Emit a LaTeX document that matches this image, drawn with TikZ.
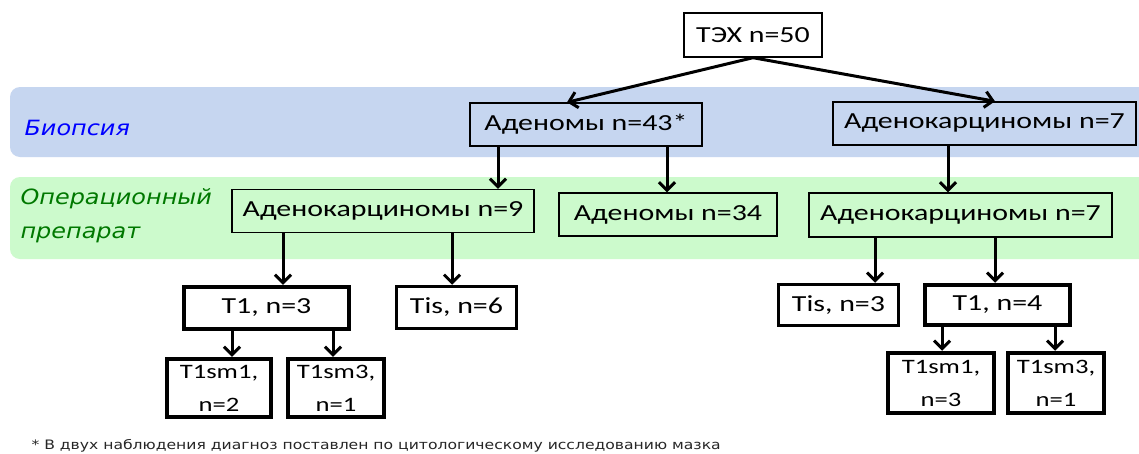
\documentclass[tikz,border=0pt]{standalone}
\usepackage{fontspec}
\setmainfont[FakeStretch=1.3]{Carlito}
\newfontfamily\notefont[FakeStretch=1.2]{DejaVu Sans}
\newfontfamily\stagefont[FakeStretch=1.14]{DejaVu Sans}
\usetikzlibrary{arrows.meta}
\definecolor{bandblue}{RGB}{198,214,240}
\definecolor{bandgreen}{RGB}{204,250,204}
\definecolor{labgreen}{RGB}{0,120,0}
\tikzset{
  box/.style={draw=black,line width=1.4pt,inner sep=0pt,align=center,font=\fontsize{23}{26}\selectfont},
  boldbox/.style={box,line width=4.5pt,fill=white},
  midbox/.style={box,line width=3.5pt,fill=white},
  smallbox/.style={boldbox,font=\fontsize{20.5}{33}\selectfont},
  arr/.style={line width=3pt,-{Straight Barb[length=8pt,width=16pt,line width=3pt]}},
  band/.style={rounded corners=10pt,draw=none},
  stage/.style={font=\stagefont\itshape\fontsize{21}{34}\selectfont,align=left,anchor=west}
}
\begin{document}
\begin{tikzpicture}[x=1pt,y=-1pt]
        \clip (0,0) rectangle (1139,453);
        \fill[white] (0,0) rectangle (1139,453);
        \draw[band,fill=bandblue] (10,87) rectangle (1160,157);
        \draw[band,fill=bandgreen] (10,177) rectangle (1160,259);
        \path (21,128) node[stage,text=blue] (biopsy) {Биопсия};
        \path (17,216) node[stage,text=labgreen] (operation) {Операционный\\препарат};

        \path (753,35) node[box,fill=white,minimum width=138,minimum height=44] (tex) {ТЭХ n=50};
        \path (586,124.5) node[box,minimum width=232,minimum height=43] (aden43) {Аденомы n=43*};
        \path (984.5,123.5) node[box,minimum width=303,minimum height=43] (adk7b) {Аденокарциномы n=7};
        \path (383,211) node[box,minimum width=302,minimum height=43] (adk9) {Аденокарциномы n=9};
        \path (668,214.5) node[box,minimum width=218,minimum height=43] (aden34) {Аденомы n=34};
        \path (960.5,215) node[box,minimum width=303,minimum height=44] (adk7o) {Аденокарциномы n=7};

        \path (266.5,308) node[boldbox,minimum width=165,minimum height=42] (t1a) {T1, n=3};
        \path (456.5,307.5) node[midbox,minimum width=120,minimum height=42] (tis6) {Tis, n=6};
        \path (219,388) node[smallbox,minimum width=104,minimum height=58] (sm1a) {T1sm1,\\n=2};
        \path (336,388) node[smallbox,minimum width=96,minimum height=58] (sm3a) {T1sm3,\\n=1};
        \path (838.5,305) node[midbox,minimum width=120,minimum height=41] (tis3) {Tis, n=3};
        \path (997.5,305) node[boldbox,minimum width=145,minimum height=40] (t1b) {T1, n=4};
        \path (941,383) node[smallbox,minimum width=106,minimum height=60] (sm1b) {T1sm1,\\n=3};
        \path (1056,383) node[smallbox,minimum width=96,minimum height=60] (sm3b) {T1sm3,\\n=1};

        \draw[arr] (tex.south) -- ([xshift=-19pt]aden43.north);
        \draw[arr] (tex.south) -- ([xshift=10.5pt]adk7b.north);
        \draw[arr] (aden43.south -| 498,0) -- (adk9.north -| 498,0);
        \draw[arr] (aden43.south -| 667,0) -- (aden34.north -| 667,0);
        \draw[arr] (adk7b.south -| 948,0) -- (adk7o.north -| 948,0);
        \draw[arr] (adk9.south -| 283,0) -- (t1a.north -| 283,0);
        \draw[arr] (adk9.south -| 452,0) -- (tis6.north -| 452,0);
        \draw[arr] (adk7o.south -| 875,0) -- (tis3.north -| 875,0);
        \draw[arr] (adk7o.south -| 995,0) -- (t1b.north -| 995,0);
        \draw[arr] (t1a.south -| 232,0) -- (sm1a.north -| 232,0);
        \draw[arr] (t1a.south -| 333,0) -- (sm3a.north -| 333,0);
        \draw[arr] (t1b.south -| 942,0) -- (sm1b.north -| 942,0);
        \draw[arr] (t1b.south -| 1055,0) -- (sm3b.north -| 1055,0);

        \path (28,446) node[anchor=west,font=\notefont\fontsize{13}{15}\selectfont,text=black!85] (note) {* В двух наблюдения диагноз поставлен по цитологическому исследованию мазка};
      \end{tikzpicture}
\end{document}
